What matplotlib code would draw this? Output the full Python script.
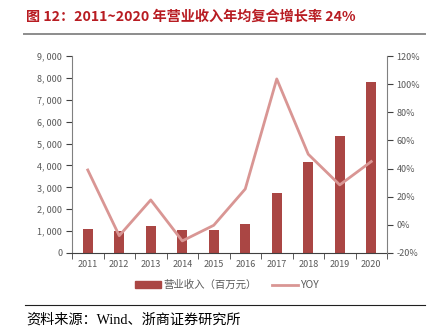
import matplotlib
matplotlib.use("Agg")
import matplotlib.pyplot as plt
from matplotlib.lines import Line2D
from matplotlib.patches import Patch

plt.rcParams['font.family'] = ['Noto Sans CJK SC', 'DejaVu Sans']

years = ['2011', '2012', '2013', '2014', '2015', '2016', '2017', '2018', '2019', '2020']
revenue = [1110, 1000, 1220, 1070, 1060, 1340, 2760, 4170, 5360, 7810]
yoy = [39, -7.7, 17.7, -11.4, -0.3, 25.5, 103.7, 50.2, 28.4, 45]
left_ticks = [0, 1000, 2000, 3000, 4000, 5000, 6000, 7000, 8000, 9000]
right_ticks = [-20, 0, 20, 40, 60, 80, 100, 120]

bar_color = '#AA4644'
line_color = '#D99694'
grey = '#595959'

fig = plt.figure(figsize=(4.33, 3.35), dpi=100)
W, H = 433, 335
ax = fig.add_axes([72 / W, 1 - 253 / H, (387 - 72) / W, (253 - 56) / H])
x = list(range(len(years)))
ax.bar(x, revenue, width=0.32, color=bar_color, zorder=2)
ax.set_xlim(-0.5, len(years) - 0.5)
ax.set_ylim(0, 9000)
ax.set_yticks(left_ticks)
ax.set_yticklabels([f"{v:,}".replace(",", ", ") for v in left_ticks])
ax.set_xticks(x)
ax.set_xticklabels(years)
ax.set_xticks([i + 0.5 for i in range(-1, len(years))], minor=True)
ax.tick_params(axis='x', which='major', length=0, labelsize=6.5, labelcolor=grey, pad=5)
ax.tick_params(axis='x', which='minor', length=4, direction='out', color='#404040')
ax.tick_params(axis='y', labelsize=6.5, labelcolor=grey, length=4, color='#404040', pad=3)
for s in ['top', 'right']:
    ax.spines[s].set_visible(False)
ax.spines['left'].set_color('#808080')
ax.spines['bottom'].set_color('#404040')

ax2 = ax.twinx()
ax2.plot(x, yoy, color=line_color, lw=2, zorder=3)
ax2.set_ylim(-20, 120)
ax2.set_yticks(right_ticks)
ax2.set_yticklabels([f"{v}%" for v in right_ticks])
ax2.tick_params(axis='y', labelsize=6.5, labelcolor=grey, length=4, color='#404040', pad=3)
for s in ['top', 'left', 'bottom']:
    ax2.spines[s].set_visible(False)
ax2.spines['right'].set_color('#808080')

handles = [Patch(color=bar_color), Line2D([0], [0], color=line_color, lw=2)]
fig.legend(handles, ['营业收入（百万元）', 'YOY'], loc='center', bbox_to_anchor=(227 / W, 1 - 285 / H),
           ncol=2, frameon=False, fontsize=7.5, labelcolor=grey, handlelength=2.5,
           handleheight=0.6, columnspacing=1.5, handletextpad=0.2)

fig.text(26 / W, 1 - 17 / H, '图 12：2011~2020 年营业收入年均复合增长率 24%', color='#B81C22',
         fontsize=10.2, fontweight='bold', va='center', ha='left')
fig.add_artist(Line2D([24 / W, 425 / W], [1 - 33.7 / H, 1 - 33.7 / H], color='#8C8C8C', lw=1.4))
fig.add_artist(Line2D([25 / W, 425 / W], [1 - 305 / H, 1 - 305 / H], color='#202020', lw=0.8))
fig.text(26 / W, 1 - 320 / H, '资料来源：Wind、浙商证券研究所', color='#000000',
         fontsize=10.2, va='center', ha='left', family=['Liberation Serif', 'Noto Sans CJK SC'])

fig.savefig('out.png', dpi=100)
